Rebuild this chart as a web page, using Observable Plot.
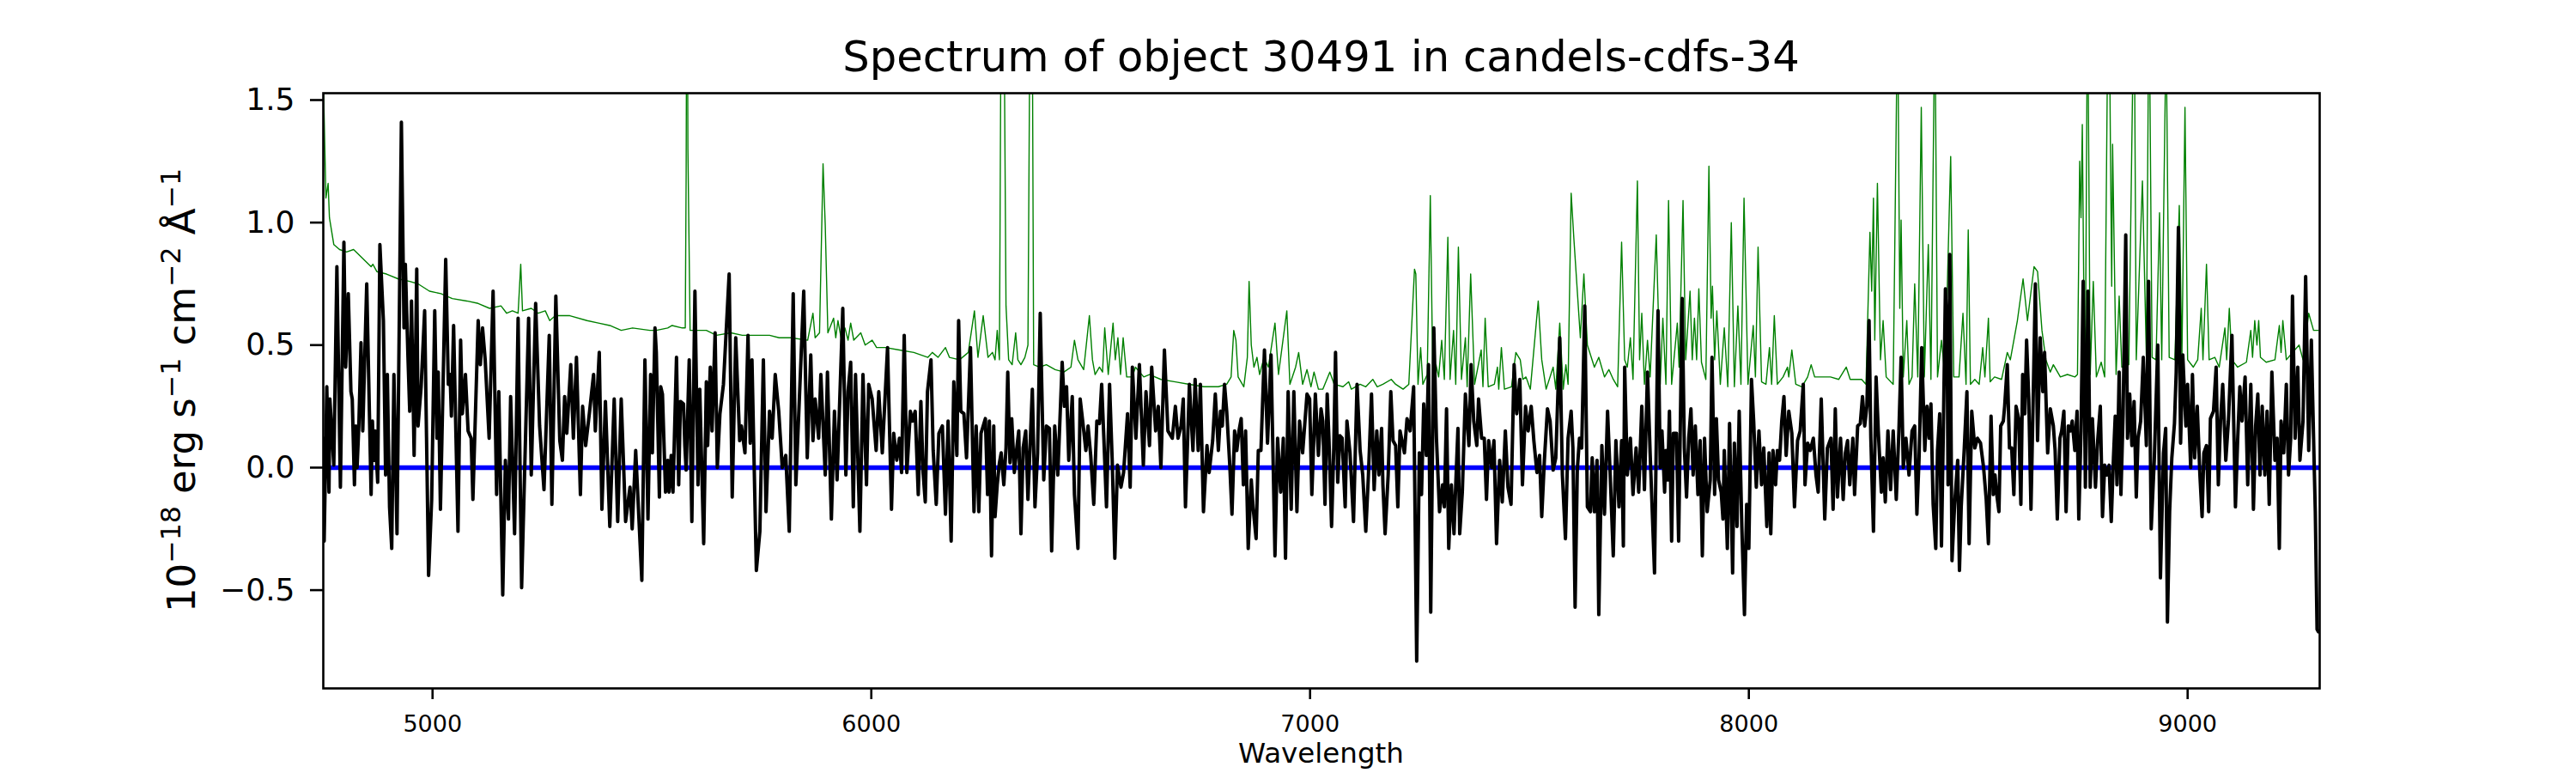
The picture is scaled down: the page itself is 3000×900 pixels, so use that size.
<!DOCTYPE html>
<html>
<head>
<meta charset="utf-8">
<script src="https://cdn.jsdelivr.net/npm/d3@7"></script>
<script src="https://cdn.jsdelivr.net/npm/@observablehq/plot@0.6"></script>
<style>
  html, body { margin: 0; padding: 0; background: #fff; }
  svg { display: block; }
</style>
</head>
<body>
<div id="chart"></div>
<script>
const titleText = "Spectrum of object 30491 in candels-cdfs-34";
const xLabel = "Wavelength";
const yLabelParts = [["10", false], ["−18", true], [" erg s", false], ["−1", true], [" cm", false], ["−2", true], [" Å", false], ["−1", true]];
const xTicks = [5000, 6000, 7000, 8000, 9000];
const yTicks = [-0.5, 0, 0.5, 1.0, 1.5];
const xDomain = [4751, 9301];
const yDomain = [-0.901, 1.528];
const zeroLevel = [0];

// observed spectrum [wavelength, flux]
const spectrum = [
[4751,0.12],[4753,-0.30],[4759,0.33],[4764,-0.10],[4766,0.28],[4769,0.19],[4775,0.01],[4782,0.82],[4790,-0.08],[4798,0.92],[4802,0.41],[4808,0.71],[4814,0.31],[4817,0.28],[4822,-0.07],[4825,0.17],[4828,0.00],[4832,0.17],[4837,0.51],[4841,0.15],[4850,0.75],[4860,-0.11],[4863,0.19],[4866,0.03],[4869,0.15],[4875,-0.06],[4880,0.91],[4888,0.60],[4893,-0.03],[4897,0.38],[4902,-0.16],[4907,-0.33],[4912,0.38],[4919,-0.27],[4929,1.41],[4935,0.57],[4938,0.83],[4944,0.45],[4948,0.23],[4952,0.68],[4958,0.05],[4964,0.81],[4967,0.17],[4974,0.33],[4982,0.64],[4991,-0.44],[4998,-0.13],[5005,0.64],[5010,0.12],[5013,0.39],[5018,-0.17],[5030,0.85],[5036,0.34],[5040,0.38],[5043,0.21],[5048,0.58],[5058,-0.26],[5064,0.52],[5068,0.22],[5075,0.38],[5081,0.15],[5088,0.12],[5092,-0.13],[5104,0.60],[5109,0.42],[5114,0.57],[5120,0.44],[5129,0.12],[5138,0.72],[5146,-0.11],[5151,0.31],[5160,-0.52],[5166,0.03],[5173,-0.21],[5178,0.29],[5187,-0.27],[5195,0.61],[5203,-0.49],[5219,0.61],[5225,-0.03],[5235,0.67],[5244,0.17],[5254,-0.09],[5266,0.54],[5272,-0.15],[5281,0.70],[5290,0.11],[5296,0.03],[5301,0.29],[5306,0.14],[5315,0.42],[5321,0.12],[5328,0.45],[5337,-0.11],[5342,0.25],[5349,0.09],[5358,0.23],[5367,0.38],[5371,0.15],[5380,0.47],[5386,-0.17],[5394,0.27],[5404,-0.24],[5414,0.28],[5422,-0.22],[5430,0.28],[5440,-0.22],[5450,-0.08],[5455,-0.25],[5463,0.07],[5477,-0.46],[5484,0.44],[5491,-0.21],[5497,0.38],[5501,0.06],[5507,0.57],
[5510,0.47],[5517,-0.12],[5520,0.33],[5524,0.30],[5531,-0.10],[5536,0.03],[5539,-0.10],[5544,0.05],[5548,-0.10],[5556,0.45],[5561,-0.07],[5565,0.27],[5572,0.26],[5575,0.09],[5578,-0.01],[5585,0.44],[5591,-0.22],[5598,0.72],[5605,-0.07],[5609,0.32],[5618,-0.31],[5624,0.35],[5627,0.09],[5633,0.41],[5637,0.15],[5644,0.55],[5649,0.00],[5655,0.22],[5663,0.34],[5676,0.79],[5683,-0.12],[5691,0.53],[5700,0.11],[5704,0.17],[5712,0.06],[5719,0.54],[5724,0.10],[5728,0.44],[5738,-0.42],[5746,-0.26],[5754,0.44],[5760,-0.18],[5768,0.23],[5774,0.12],[5781,0.38],[5789,0.23],[5797,0.00],[5805,0.05],[5813,-0.26],[5822,0.71],[5828,-0.07],[5836,0.28],[5846,0.72],[5854,0.04],[5862,0.46],[5867,0.11],[5872,0.28],[5880,0.12],[5885,0.38],[5895,-0.03],[5900,0.39],[5909,-0.21],[5916,0.23],[5922,-0.05],[5935,0.65],[5942,-0.03],[5947,0.31],[5953,0.43],[5959,-0.16],[5964,0.38],[5974,-0.26],[5981,0.38],[5989,-0.07],[5994,0.34],[6002,0.28],[6011,0.07],[6017,0.31],[6025,0.06],[6037,0.49],[6046,-0.17],[6051,0.14],[6058,0.03],[6064,0.12],[6069,-0.02],[6075,0.54],[6081,-0.02],[6089,0.23],[6094,0.19],[6100,0.23],[6107,-0.11],[6113,0.27],[6118,-0.02],[6123,-0.14],[6128,0.31],[6136,0.44],[6141,0.07],[6148,-0.15],[6154,0.14],[6162,0.17],[6169,-0.19],[6175,0.19],[6182,-0.30],[6188,0.35],[6195,0.05],[6199,0.60],[6204,0.23],[6211,0.22],[6217,0.04],[6226,0.49],[6234,-0.18],[6239,0.17],[6245,-0.18],[6250,0.14],[6260,0.20],[6265,-0.11],
[6269,0.19],[6274,-0.36],[6279,0.17],[6282,-0.20],[6287,-0.07],[6292,0.02],[6296,0.06],[6302,-0.07],[6307,0.08],[6311,0.39],[6316,0.02],[6320,0.20],[6326,-0.02],[6331,0.07],[6336,0.15],[6341,-0.27],[6346,0.08],[6352,0.15],[6357,-0.13],[6367,0.32],[6373,-0.16],[6379,0.06],[6385,0.63],[6393,-0.05],[6399,0.17],[6406,0.16],[6411,-0.34],[6418,0.17],[6425,-0.03],[6435,0.43],[6440,0.25],[6445,0.33],[6450,0.03],[6458,0.29],[6463,-0.11],[6471,-0.33],[6476,0.28],[6483,0.17],[6489,0.07],[6494,0.17],[6500,0.05],[6507,-0.15],[6514,0.19],[6520,0.18],[6525,0.34],[6530,0.12],[6536,-0.16],[6543,0.34],[6549,0.03],[6555,-0.37],[6561,0.01],[6569,-0.08],[6575,-0.02],[6584,0.22],[6590,-0.08],[6595,0.41],[6603,0.12],[6611,0.42],[6620,0.01],[6626,0.31],[6634,0.09],[6639,0.41],[6648,0.15],[6654,0.25],[6660,0.00],[6668,0.48],[6676,0.15],[6686,0.12],[6693,0.25],[6699,0.12],[6706,0.17],[6711,0.28],[6716,-0.16],[6725,0.34],[6733,0.07],[6738,0.36],[6745,0.07],[6750,0.34],[6757,-0.18],[6765,0.09],[6770,-0.02],[6778,0.11],[6784,0.30],[6791,0.07],[6796,0.23],[6800,0.17],[6805,0.34],[6810,0.23],[6817,0.01],[6822,-0.19],[6828,0.15],[6833,0.07],[6838,0.15],[6843,0.20],[6848,-0.07],[6853,0.15],[6859,-0.33],[6866,-0.05],[6870,-0.16],[6877,-0.29],[6882,0.07],[6888,0.07],[6896,0.48],[6903,0.10],[6911,0.46],[6920,-0.36],[6926,0.12],[6933,-0.10],[6939,0.12],[6944,-0.37],[6950,0.31],[6957,-0.17],[6963,0.31],[6970,-0.18],[6976,0.19],[6983,0.06],[6993,0.30],[6999,0.28],[7004,-0.11],[7012,0.30],[7019,0.05],[7025,0.24],
[7029,0.19],[7034,-0.15],[7039,0.30],[7043,0.12],[7049,-0.24],[7054,0.08],[7058,0.47],[7063,-0.06],[7068,0.13],[7073,0.12],[7080,-0.16],[7084,0.19],[7091,0.06],[7099,-0.22],[7107,0.34],[7114,0.07],[7120,-0.03],[7127,-0.26],[7133,-0.03],[7140,0.30],[7146,-0.09],[7152,0.15],[7157,-0.03],[7163,0.16],[7166,-0.07],[7171,-0.27],[7178,-0.03],[7184,0.31],[7189,0.11],[7195,0.09],[7200,-0.16],[7205,0.15],[7215,0.06],[7221,0.20],[7228,0.15],[7236,0.33],[7243,-0.79],[7249,0.06],[7254,-0.11],[7259,0.26],[7265,0.05],[7270,0.42],[7275,-0.59],[7282,0.57],[7288,0.12],[7295,-0.18],[7302,-0.07],[7306,-0.16],[7311,0.24],[7316,-0.33],[7322,-0.07],[7328,-0.27],[7332,-0.07],[7337,0.16],[7341,-0.27],[7347,-0.10],[7354,0.30],[7362,0.09],[7367,0.42],[7373,0.19],[7380,0.09],[7384,0.28],[7391,0.12],[7397,0.12],[7402,-0.13],[7407,0.11],[7414,0.00],[7419,0.11],[7425,-0.31],[7432,0.03],[7438,-0.14],[7445,0.15],[7451,-0.08],[7458,-0.15],[7465,0.42],[7471,0.22],[7478,0.36],[7484,-0.07],[7491,0.25],[7497,0.15],[7504,0.25],[7510,0.11],[7517,-0.02],[7523,0.05],[7528,-0.20],[7534,0.03],[7541,0.24],[7547,0.19],[7554,-0.01],[7560,0.04],[7569,0.53],[7575,-0.03],[7582,-0.29],[7588,0.12],[7595,0.23],[7599,0.08],[7604,-0.57],[7609,-0.01],[7614,0.12],[7619,0.08],[7626,0.66],[7632,-0.16],[7639,-0.18],[7643,0.04],[7648,-0.18],[7654,0.03],[7658,-0.60],[7665,0.09],[7671,-0.19],[7678,0.23],[7684,-0.03],[7691,-0.36],[7697,0.11],[7704,-0.16],[7710,0.11],[7714,-0.32],[7717,0.41],[7723,-0.03],[7730,0.12],[7736,-0.11],[7743,0.08],[7749,-0.10],[7756,0.25],[7762,-0.09],[7769,0.39],[7775,0.06],[7785,-0.43],
[7793,0.64],[7798,0.00],[7802,0.15],[7808,-0.10],[7811,0.07],[7815,-0.05],[7819,0.23],[7824,-0.30],[7828,0.14],[7835,0.14],[7840,-0.30],[7848,0.69],[7853,0.08],[7858,-0.12],[7863,0.12],[7868,0.24],[7873,-0.03],[7878,0.17],[7884,-0.11],[7889,0.11],[7894,-0.36],[7899,0.12],[7905,-0.18],[7912,-0.05],[7916,0.45],[7922,-0.11],[7926,0.20],[7931,-0.05],[7937,-0.10],[7941,-0.21],[7944,0.07],[7951,-0.33],[7956,0.18],[7963,-0.43],[7967,0.10],[7973,-0.24],[7978,0.23],[7984,-0.24],[7990,-0.60],[7995,-0.15],[8000,-0.33],[8006,0.36],[8011,0.19],[8017,-0.08],[8023,0.15],[8029,-0.07],[8034,0.08],[8041,-0.24],[8046,0.06],[8050,-0.27],[8055,0.07],[8061,-0.07],[8065,0.07],[8070,0.03],[8075,0.19],[8080,0.29],[8085,0.05],[8091,0.23],[8098,0.14],[8104,-0.16],[8111,0.11],[8117,0.15],[8124,0.34],[8128,-0.07],[8134,0.10],[8140,0.07],[8147,0.12],[8153,-0.03],[8158,-0.10],[8165,0.28],[8173,-0.21],[8179,0.08],[8187,0.12],[8192,-0.17],[8197,0.24],[8202,-0.12],[8209,0.12],[8215,-0.13],[8220,0.06],[8225,0.11],[8230,-0.07],[8237,0.12],[8241,-0.11],[8248,0.17],[8254,0.18],[8259,0.29],[8264,0.17],[8269,0.25],[8274,0.60],[8278,0.12],[8284,-0.26],[8290,0.37],[8295,0.15],[8302,-0.10],[8306,0.04],[8311,-0.14],[8317,0.15],[8323,-0.09],[8329,0.15],[8336,-0.13],[8342,0.15],[8347,0.45],[8352,0.00],[8358,0.12],[8365,-0.03],[8372,0.15],[8378,0.17],[8383,-0.19],[8388,0.04],[8394,0.49],[8401,0.07],[8406,0.25],[8411,0.12],[8415,0.26],[8420,-0.15],[8426,-0.33],[8430,0.07],[8435,0.22],[8439,-0.32],[8443,0.12],[8448,0.73],[8452,0.52],[8454,-0.07],[8458,0.87],[8463,-0.38],[8469,-0.15],[8476,0.03],[8480,-0.42],[8484,-0.16],[8491,0.08],[8497,0.31],[8502,-0.31],[8508,0.23],[8515,0.08],[8521,0.12],[8528,0.10],[8535,0.00],[8541,-0.13],[8546,-0.31],
[8552,0.21],[8557,-0.11],[8561,-0.03],[8565,-0.11],[8570,-0.18],[8574,0.17],[8580,0.19],[8583,0.25],[8589,0.42],[8594,0.08],[8599,0.08],[8604,-0.11],[8609,0.25],[8615,0.20],[8620,-0.15],[8624,0.38],[8629,0.22],[8633,0.52],[8638,0.28],[8643,-0.17],[8648,0.28],[8653,0.75],[8658,0.11],[8664,0.53],[8670,0.31],[8674,0.47],[8681,0.06],[8687,0.24],[8694,0.17],[8698,0.07],[8703,-0.21],[8709,0.12],[8713,0.15],[8718,0.23],[8723,-0.18],[8728,0.17],[8733,0.15],[8737,0.19],[8743,0.07],[8748,0.23],[8752,-0.21],[8757,0.15],[8762,0.76],[8767,-0.08],[8773,0.72],[8778,-0.08],[8783,0.20],[8790,-0.08],[8795,0.11],[8801,0.25],[8806,-0.20],[8811,0.01],[8816,-0.03],[8821,0.01],[8826,-0.22],[8831,0.04],[8835,0.21],[8839,-0.07],[8844,0.39],[8848,-0.11],[8853,0.22],[8859,0.95],[8863,0.12],[8868,0.30],[8873,0.09],[8878,0.27],[8883,-0.12],[8887,0.12],[8893,0.19],[8899,0.45],[8906,0.09],[8911,0.76],[8917,-0.25],[8924,0.03],[8932,0.50],[8938,-0.45],[8945,0.06],[8950,0.16],[8954,-0.63],[8959,-0.18],[8964,0.04],[8970,0.18],[8974,0.39],[8979,0.98],[8984,0.10],[8989,0.46],[8996,0.17],[9000,0.34],[9007,0.00],[9011,0.38],[9016,0.04],[9022,0.25],[9028,-0.03],[9033,-0.20],[9037,0.06],[9043,0.09],[9048,-0.18],[9052,0.20],[9059,0.23],[9065,0.41],[9070,-0.07],[9075,0.19],[9080,0.34],[9087,0.03],[9093,0.19],[9101,0.54],[9109,-0.16],[9114,0.11],[9119,0.33],[9124,0.19],[9131,0.37],[9137,-0.07],[9144,0.34],[9150,-0.17],[9155,0.17],[9160,0.30],[9165,-0.03],[9170,0.25],[9176,-0.03],[9181,0.23],[9186,-0.15],[9192,0.39],[9199,0.03],[9204,0.12],[9209,-0.33],[9213,0.19],[9219,0.06],[9225,0.34],[9230,-0.03],[9235,0.12],[9239,0.70],[9245,0.12],[9251,0.41],[9256,0.03],[9263,0.19],[9269,0.78],[9276,0.07],[9282,0.52],[9289,-0.03],[9291,-0.18],[9295,-0.66],[9298,-0.67]
];

// model / sky-noise curve [wavelength, flux]
const model = [
[4751,1.60],[4757,1.10],[4762,1.16],[4765,1.02],[4775,0.91],[4788,0.89],[4804,0.88],[4820,0.89],[4837,0.86],[4860,0.82],[4864,0.83],[4873,0.80],[4895,0.79],[4922,0.77],[4948,0.76],[4967,0.75],[4993,0.72],[5019,0.71],[5045,0.69],[5078,0.68],[5104,0.67],[5130,0.65],[5156,0.66],[5169,0.63],[5182,0.64],[5195,0.63],[5201,0.83],[5205,0.64],[5225,0.65],[5241,0.63],[5257,0.64],[5267,0.60],[5280,0.62],[5313,0.62],[5352,0.60],[5378,0.59],[5404,0.58],[5430,0.56],[5456,0.57],[5495,0.56],
[5510,0.56],[5536,0.57],[5546,0.58],[5569,0.57],[5576,0.57],[5578,1.20],[5580,2.50],[5582,1.30],[5587,0.56],[5608,0.56],[5624,0.56],[5647,0.54],[5680,0.55],[5706,0.54],[5738,0.54],[5768,0.54],[5790,0.53],[5816,0.53],[5855,0.52],[5867,0.63],[5872,0.53],[5882,0.55],[5890,1.24],[5895,0.99],[5901,0.55],[5914,0.61],[5919,0.53],[5924,0.60],[5931,0.53],[5940,0.57],[5947,0.52],[5953,0.59],[5960,0.52],[5976,0.55],[5986,0.50],[6002,0.52],[6012,0.49],[6032,0.49],[6064,0.48],[6097,0.47],[6129,0.45],[6139,0.47],[6152,0.45],[6169,0.49],[6178,0.45],[6201,0.44],[6221,0.47],[6235,0.64],[6243,0.45],[6255,0.62],[6266,0.45],
[6276,0.47],[6282,0.44],[6287,0.56],[6292,0.44],[6296,2.00],[6299,3.00],[6302,2.00],[6307,0.66],[6313,0.44],[6321,0.42],[6329,0.55],[6334,0.44],[6341,0.42],[6350,0.45],[6357,0.50],[6362,2.00],[6364,2.50],[6367,1.80],[6370,0.42],[6383,0.41],[6399,0.42],[6419,0.40],[6439,0.39],[6455,0.41],[6463,0.52],[6471,0.44],[6484,0.40],[6497,0.62],[6504,0.44],[6510,0.38],[6520,0.41],[6527,0.39],[6532,0.57],[6540,0.38],[6551,0.59],[6556,0.44],[6562,0.53],[6568,0.38],[6574,0.53],[6582,0.37],[6595,0.37],[6602,0.41],[6621,0.37],[6634,0.38],[6660,0.36],[6693,0.35],[6725,0.34],[6758,0.33],[6791,0.33],[6810,0.34],[6820,0.37],[6826,0.56],[6831,0.52],[6836,0.37],[6849,0.33],[6857,0.45],[6861,0.76],[6866,0.50],[6872,0.41],[6879,0.45],[6885,0.38],[6895,0.45],[6905,0.41],[6920,0.59],[6928,0.38],[6947,0.64],[6954,0.34],[6967,0.41],[6974,0.47],[6983,0.34],[6993,0.40],[7002,0.33],[7009,0.39],[7019,0.32],
[7029,0.32],[7045,0.39],[7055,0.34],[7075,0.33],[7088,0.35],[7094,0.32],[7114,0.34],[7127,0.33],[7143,0.36],[7153,0.33],[7166,0.34],[7185,0.36],[7195,0.34],[7212,0.32],[7225,0.34],[7238,0.81],[7241,0.79],[7246,0.34],[7252,0.49],[7257,0.34],[7267,0.38],[7274,1.11],[7280,0.34],[7287,0.42],[7293,0.37],[7300,0.52],[7306,0.36],[7314,0.94],[7319,0.36],[7327,0.56],[7332,0.34],[7338,0.90],[7345,0.36],[7354,0.53],[7358,0.33],[7366,0.79],[7375,0.34],[7390,0.48],[7394,0.33],[7399,0.61],[7406,0.33],[7420,0.34],[7427,0.41],[7430,0.32],[7436,0.49],[7443,0.32],[7459,0.33],[7469,0.47],[7479,0.44],[7485,0.36],[7492,0.37],[7502,0.32],[7520,0.68],[7528,0.44],[7538,0.32],[7554,0.41],[7560,0.32],[7569,0.59],[7577,0.32],[7583,0.42],[7588,0.34],[7595,1.12],[7601,0.94],[7616,0.53],[7624,0.79],[7632,0.50],[7648,0.41],[7658,0.45],[7671,0.37],[7681,0.40],[7691,0.36],[7701,0.33],[7710,0.92],[7717,0.44],[7723,0.41],[7730,0.53],[7736,0.36],[7746,1.17],[7751,0.44],[7756,0.63],[7762,0.34],[7769,0.52],[7775,0.37],[7789,0.95],
[7798,0.34],[7804,0.61],[7811,0.34],[7817,1.09],[7824,0.34],[7837,0.59],[7841,0.41],[7850,1.09],[7856,0.44],[7866,0.72],[7871,0.44],[7876,0.61],[7881,0.44],[7886,0.73],[7892,0.43],[7902,0.36],[7909,1.23],[7914,0.61],[7917,0.74],[7922,0.44],[7927,0.64],[7935,0.34],[7944,0.57],[7952,0.33],[7960,1.00],[7967,0.33],[7975,0.66],[7982,0.34],[7989,1.10],[7998,0.34],[8010,0.58],[8015,0.37],[8021,0.90],[8029,0.35],[8039,0.34],[8047,0.49],[8052,0.34],[8058,0.62],[8065,0.34],[8078,0.37],[8088,0.41],[8091,0.37],[8098,0.48],[8107,0.34],[8121,0.33],[8134,0.37],[8142,0.42],[8150,0.37],[8166,0.37],[8186,0.37],[8205,0.36],[8222,0.41],[8231,0.36],[8257,0.36],[8267,0.34],[8276,0.96],[8280,0.72],[8284,1.10],[8287,0.52],[8293,1.16],[8300,0.44],[8306,0.60],[8313,0.37],[8329,0.34],[8339,1.90],[8344,0.65],[8347,1.01],[8352,0.37],[8360,0.60],[8365,0.34],[8372,0.37],[8378,0.75],[8385,0.37],[8393,1.47],[8400,0.37],[8409,0.91],[8415,0.36],[8424,1.90],[8430,0.37],[8439,0.52],[8447,0.37],[8460,1.27],[8467,0.37],[8479,0.37],[8488,0.63],[8495,0.34],[8500,0.97],[8505,0.34],[8515,0.36],[8525,0.34],[8533,0.49],[8538,0.37],[8546,0.61],
[8550,0.35],[8560,0.37],[8576,0.36],[8589,0.47],[8596,0.44],[8612,0.60],[8625,0.77],[8635,0.60],[8650,0.82],[8658,0.80],[8668,0.56],[8677,0.44],[8687,0.39],[8694,0.42],[8710,0.37],[8726,0.38],[8743,0.37],[8749,0.38],[8754,1.25],[8757,1.02],[8760,1.40],[8764,0.60],[8767,0.44],[8772,2.00],[8778,0.38],[8785,0.76],[8792,0.37],[8803,0.43],[8811,0.37],[8820,2.20],[8824,1.32],[8827,0.74],[8829,1.32],[8837,0.38],[8844,0.70],[8850,0.41],[8866,0.42],[8878,2.00],[8883,0.44],[8897,1.17],[8906,0.45],[8912,2.00],[8919,0.45],[8928,0.44],[8936,1.04],[8941,0.44],[8951,1.80],[8958,0.45],[8971,0.44],[8981,1.07],[8987,0.45],[8994,1.47],[9000,0.44],[9013,0.41],[9023,0.44],[9031,0.65],[9035,0.44],[9043,0.83],[9049,0.44],[9062,0.45],[9072,0.41],[9085,0.57],[9089,0.44],[9095,0.65],[9101,0.44],[9114,0.41],[9134,0.43],[9144,0.56],[9148,0.45],[9153,0.60],[9158,0.50],[9162,0.60],[9166,0.45],[9179,0.43],[9199,0.44],[9209,0.58],[9213,0.47],[9217,0.60],[9225,0.44],[9254,0.50],[9263,0.44],[9276,0.63],[9287,0.56],[9298,0.56]
];

const specData = spectrum.map(([w, f]) => ({w, f}));
const modelData = model.map(([w, f]) => ({w, f}));

const W = 3000, H = 900;
const mL = 376, mR = 299, mT = 108, mB = 99;
const FONT = "DejaVu Sans, Liberation Sans, sans-serif";

const plot = Plot.plot({
  width: W,
  height: H,
  marginLeft: mL,
  marginRight: mR,
  marginTop: mT,
  marginBottom: mB,
  style: {fontFamily: FONT, background: "#ffffff", color: "#000000", overflow: "visible"},
  x: {domain: xDomain},
  y: {domain: yDomain},
  marks: [
    Plot.ruleY(zeroLevel, {stroke: "#0000ff", strokeWidth: 5.5}),
    Plot.line(modelData, {x: "w", y: "f", stroke: "#008000", strokeWidth: 1.4, clip: true}),
    Plot.line(specData, {x: "w", y: "f", stroke: "#000000", strokeWidth: 4, clip: true}),
    Plot.frame({stroke: "#000000", strokeWidth: 2.6}),
    Plot.axisX(xTicks, {tickSize: 13, tickPadding: 18, fontSize: 27, strokeWidth: 2.6, tickFormat: d => String(d), label: null}),
    Plot.axisY(yTicks, {tickSize: 15, tickPadding: 18, fontSize: 36, strokeWidth: 2.6, tickFormat: d => d.toFixed(1).replace("-", "\u2212"), label: null})
  ]
});

const svg = d3.select(plot);
const cx = mL + (W - mL - mR) / 2;
const cy = mT + (H - mT - mB) / 2;

svg.append("text")
  .attr("x", cx).attr("y", 83)
  .attr("text-anchor", "middle")
  .attr("font-family", FONT).attr("font-size", 49.6)
  .attr("fill", "#000").text(titleText);

svg.append("text")
  .attr("x", cx).attr("y", 888)
  .attr("text-anchor", "middle")
  .attr("font-family", FONT).attr("font-size", 32.5)
  .attr("fill", "#000").text(xLabel);

const F = 45;
const yl = svg.append("text")
  .attr("transform", `translate(227,${cy}) rotate(-90)`)
  .attr("text-anchor", "middle")
  .attr("font-family", FONT).attr("font-size", F)
  .attr("fill", "#000");
let shift = 0;
for (const [t, sup] of yLabelParts) {
  const target = sup ? -0.38 * F : 0;
  yl.append("tspan")
    .attr("dy", target - shift)
    .attr("font-size", sup ? 0.7 * F : F)
    .text(t);
  shift = target;
}

document.getElementById("chart").appendChild(plot);
</script>
</body>
</html>
